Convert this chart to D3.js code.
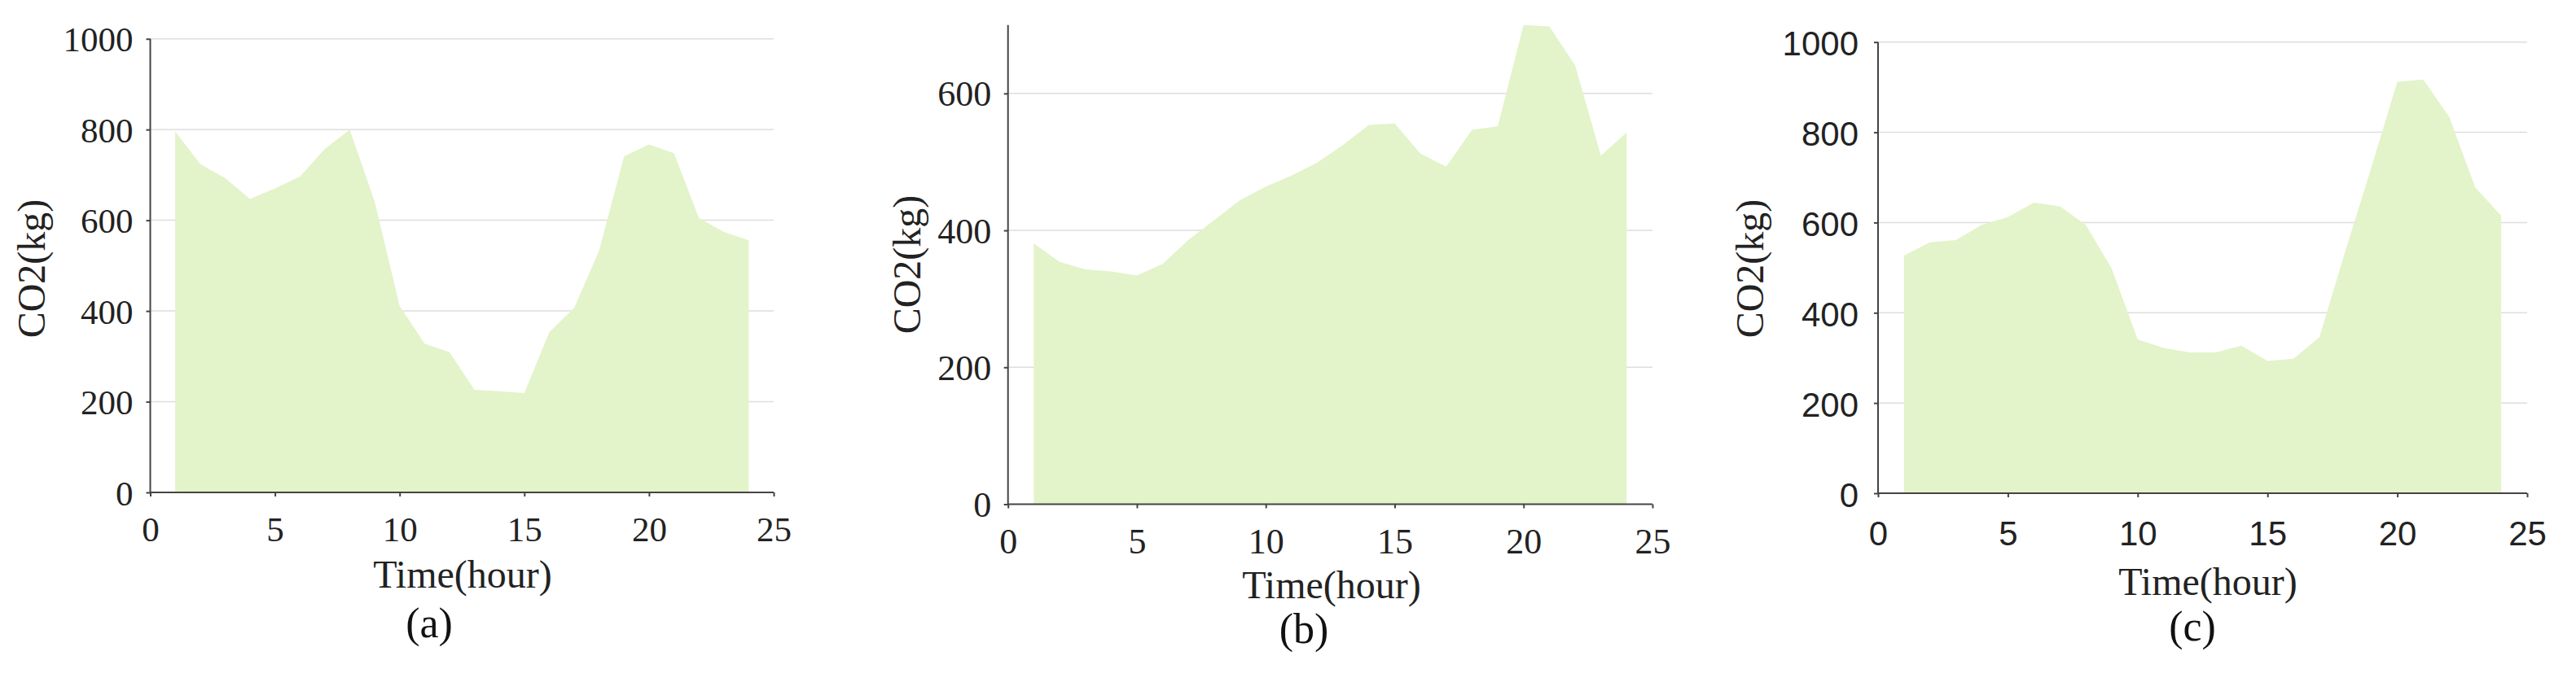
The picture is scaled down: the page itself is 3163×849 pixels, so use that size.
<!DOCTYPE html>
<html>
<head>
<meta charset="utf-8">
<script src="https://cdn.jsdelivr.net/npm/d3@7/dist/d3.min.js"></script>
<style>
  html, body { margin: 0; padding: 0; background: #ffffff; }
  svg { display: block; }
</style>
</head>
<body>
<svg id="chart" width="3163" height="849"></svg>
<script>
// ---- data ----
const hours = [1,2,3,4,5,6,7,8,9,10,11,12,13,14,15,16,17,18,19,20,21,22,23,24];
const co2A = [796,724,693,647,670,696,757,800,641,411,328,309,226,223,219,353,407,533,741,767,748,605,574,556];
const co2B = [381,354,343,340,334,351,386,415,444,464,480,499,525,554,556,512,493,547,552,700,698,641,509,543];
const co2C = [527,556,561,595,612,644,636,595,498,341,322,312,312,327,293,298,346,537,722,912,917,834,678,615];
const xTicks = [0,5,10,15,20,25];
const yTicksA = [0,200,400,600,800,1000];
const yTicksB = [0,200,400,600];
const yTicksC = [0,200,400,600,800,1000];
const panelLabels = ["(a)","(b)","(c)"];
const xTitle = "Time(hour)";
const yTitle = "CO2(kg)";

const svg = d3.select("#chart");
const SERIF = "'Liberation Serif','Times New Roman',serif";
const SANS = "'Liberation Sans',Arial,sans-serif";

const panels = [
  { values: co2A, yTicks: yTicksA, yMax: 1000, label: panelLabels[0],
    left: 184.5, right: 950, top: 47.7, bottom: 605,
    tickFont: SERIF, tickSize: 43, xLabBase: 60, yLabOff: 21, yLabDy: 15,
    yTitleX: 55, yTitleY: 330, xTitleX: 568, xTitleY: 722, labX: 527, labY: 783 },
  { values: co2B, yTicks: yTicksB, yMax: 700, label: panelLabels[1],
    left: 1237.7, right: 2029, top: 30.7, bottom: 619.5,
    tickFont: SERIF, tickSize: 44, xLabBase: 60.5, yLabOff: 20.5, yLabDy: 15,
    yTitleX: 1130, yTitleY: 325, xTitleX: 1635, xTitleY: 735, labX: 1601, labY: 790 },
  { values: co2C, yTicks: yTicksC, yMax: 1000, label: panelLabels[2],
    left: 2306, right: 3103, top: 51.7, bottom: 606,
    tickFont: SANS, tickSize: 42, xLabBase: 64, yLabOff: 24, yLabDy: 16,
    yTitleX: 2165, yTitleY: 330, xTitleX: 2711, xTitleY: 731, labX: 2692, labY: 787 }
];

panels.forEach(p => {
  const x = d3.scaleLinear().domain([0, 25]).range([p.left, p.right]);
  const y = d3.scaleLinear().domain([0, p.yMax]).range([p.bottom, p.top]);
  const g = svg.append("g");

  // gridlines
  g.append("g").selectAll("line")
    .data(p.yTicks.filter(t => t > 0))
    .join("line")
    .attr("x1", p.left).attr("x2", p.right)
    .attr("y1", d => y(d)).attr("y2", d => y(d))
    .attr("stroke", "#dedede").attr("stroke-width", 1.5);

  // area
  const area = d3.area()
    .x((d, i) => x(hours[i]))
    .y0(y(0))
    .y1(d => y(d));
  g.append("path")
    .datum(p.values)
    .attr("d", area)
    .attr("fill", "#e3f3ca");

  // y axis
  const yAxis = g.append("g")
    .attr("transform", `translate(${p.left},0)`)
    .call(d3.axisLeft(y).tickValues(p.yTicks).tickSize(5).tickPadding(p.yLabOff - 5).tickFormat(d3.format("d")));
  yAxis.select(".domain").attr("stroke", "#444").attr("stroke-width", 2)
    .attr("d", `M0,${p.bottom}V${p.top}`);
  yAxis.selectAll(".tick line").attr("stroke", "#444").attr("stroke-width", 2);
  yAxis.selectAll(".tick text")
    .attr("dy", null).attr("y", p.yLabDy)
    .attr("font-family", p.tickFont).attr("font-size", p.tickSize)
    .attr("fill", "#222");

  // x axis
  const xAxis = g.append("g")
    .attr("transform", `translate(0,${p.bottom})`)
    .call(d3.axisBottom(x).tickValues(xTicks).tickSize(5).tickFormat(d3.format("d")));
  xAxis.select(".domain").attr("stroke", "#444").attr("stroke-width", 2)
    .attr("d", `M${p.left},0H${p.right}`);
  xAxis.selectAll(".tick line").attr("stroke", "#444").attr("stroke-width", 2);
  xAxis.selectAll(".tick text")
    .attr("dy", null).attr("y", p.xLabBase)
    .attr("font-family", p.tickFont).attr("font-size", p.tickSize)
    .attr("fill", "#222");

  // titles
  g.append("text")
    .attr("transform", `translate(${p.yTitleX},${p.yTitleY}) rotate(-90)`)
    .attr("text-anchor", "middle")
    .attr("font-family", SERIF).attr("font-size", 48).attr("fill", "#222")
    .text(yTitle);
  g.append("text")
    .attr("x", p.xTitleX).attr("y", p.xTitleY)
    .attr("text-anchor", "middle")
    .attr("font-family", SERIF).attr("font-size", 48).attr("fill", "#222")
    .text(xTitle);
  g.append("text")
    .attr("x", p.labX).attr("y", p.labY)
    .attr("text-anchor", "middle")
    .attr("font-family", SERIF).attr("font-size", 52).attr("fill", "#111")
    .text(p.label);
});
</script>
</body>
</html>
